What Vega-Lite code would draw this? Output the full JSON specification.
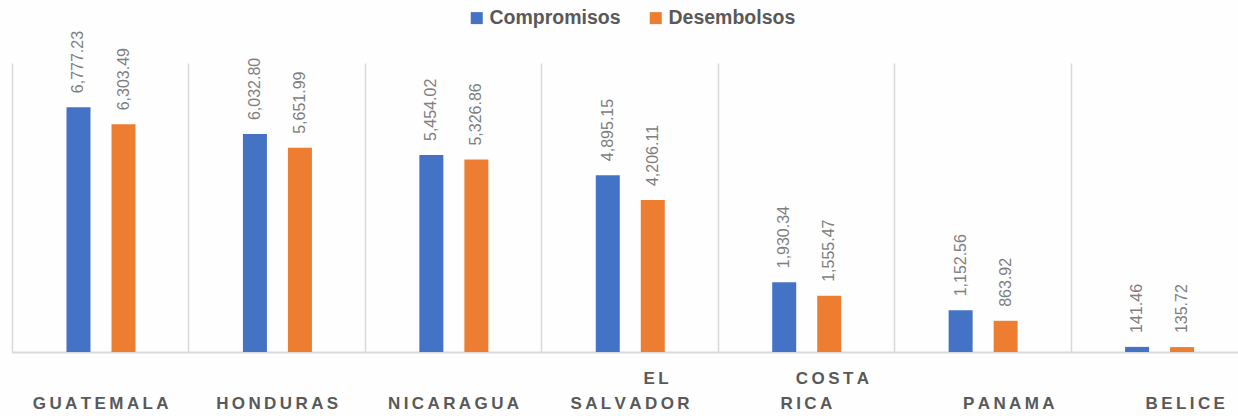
{
  "$schema": "https://vega.github.io/schema/vega-lite/v6.json",
  "autosize": {"type": "none"},
  "padding": {"left": 12, "top": 63, "right": 0, "bottom": 64},
  "width": 1235,
  "height": 289,
  "background": "#FEFEFE",
  "config": {"view": {"stroke": null}, "font": "Liberation Sans"},
  "data": {
    "values": [
      {"pais": "GUATEMALA", "serie": "Compromisos", "valor": 6777.23},
      {"pais": "GUATEMALA", "serie": "Desembolsos", "valor": 6303.49},
      {"pais": "HONDURAS", "serie": "Compromisos", "valor": 6032.80},
      {"pais": "HONDURAS", "serie": "Desembolsos", "valor": 5651.99},
      {"pais": "NICARAGUA", "serie": "Compromisos", "valor": 5454.02},
      {"pais": "NICARAGUA", "serie": "Desembolsos", "valor": 5326.86},
      {"pais": "EL SALVADOR", "serie": "Compromisos", "valor": 4895.15},
      {"pais": "EL SALVADOR", "serie": "Desembolsos", "valor": 4206.11},
      {"pais": "COSTA RICA", "serie": "Compromisos", "valor": 1930.34},
      {"pais": "COSTA RICA", "serie": "Desembolsos", "valor": 1555.47},
      {"pais": "PANAMA", "serie": "Compromisos", "valor": 1152.56},
      {"pais": "PANAMA", "serie": "Desembolsos", "valor": 863.92},
      {"pais": "BELICE", "serie": "Compromisos", "valor": 141.46},
      {"pais": "BELICE", "serie": "Desembolsos", "valor": 135.72}
    ]
  },
  "encoding": {
    "x": {
      "field": "pais",
      "type": "nominal",
      "sort": ["GUATEMALA", "HONDURAS", "NICARAGUA", "EL SALVADOR", "COSTA RICA", "PANAMA", "BELICE"],
      "scale": {"paddingInner": 0, "paddingOuter": 0},
      "axis": {
        "title": null,
        "ticks": false,
        "tickSize": 0,
        "labelAngle": 0,
        "labelFontSize": 17,
        "labelFontWeight": "bold",
        "labelColor": "#595959",
        "labelPadding": 35,
        "labelBaseline": "bottom",
        "labelLineHeight": 25,
        "labelLimit": 400,
        "labelOverlap": false,
        "grid": true,
        "tickBand": "extent",
        "gridColor": "#D9D9D9",
        "gridWidth": 1.5,
        "domainColor": "#D9D9D9",
        "domainWidth": 2,
        "labelExpr": "datum.label == 'EL SALVADOR' ? ['\u200b\u00a0\u00a0\u00a0\u00a0\u00a0\u00a0\u00a0\u00a0\u00a0\u00a0\u00a0' + join(split('EL', ''), '\u2009'), join(split('SALVADOR', ''), '\u2009')] : datum.label == 'COSTA RICA' ? ['\u200b\u00a0\u00a0\u00a0\u00a0\u00a0\u00a0\u00a0\u00a0\u00a0\u00a0\u00a0' + join(split('COSTA', ''), '\u2009'), join(split('RICA', ''), '\u2009')] : ['', (indexof(['PANAMA', 'BELICE'], datum.label) >= 0 ? '\u200b\u00a0\u00a0\u00a0\u00a0\u00a0\u00a0\u00a0\u00a0\u00a0\u00a0\u00a0' : '') + join(split(datum.label, ''), '\u2009')]"
      }
    },
    "xOffset": {
      "field": "serie",
      "type": "nominal",
      "sort": ["Compromisos", "Desembolsos"],
      "scale": {"range": [54.5, 123.5], "paddingInner": 0.467, "paddingOuter": 0}
    },
    "y": {
      "field": "valor",
      "type": "quantitative",
      "scale": {"domain": [0, 8000]},
      "axis": null
    }
  },
  "layer": [
    {
      "mark": {"type": "bar"},
      "encoding": {
        "color": {
          "field": "serie",
          "type": "nominal",
          "sort": ["Compromisos", "Desembolsos"],
          "scale": {"domain": ["Compromisos", "Desembolsos"], "range": ["#4472C4", "#ED7D31"]},
          "legend": {
            "orient": "none",
            "legendX": 455,
            "legendY": -55,
            "direction": "horizontal",
            "title": null,
            "symbolType": "square",
            "symbolSize": 144,
            "symbolStrokeWidth": 0,
            "symbolOpacity": 1,
            "labelFontSize": 19.5,
            "labelFontWeight": "bold",
            "labelColor": "#595959",
            "labelOffset": 3,
            "columnPadding": 25,
            "padding": 0
          }
        }
      }
    },
    {
      "mark": {"type": "text", "angle": 270, "align": "left", "baseline": "middle", "dx": 14, "fontSize": 16, "color": "#7F7F7F"},
      "encoding": {
        "text": {"field": "valor", "type": "quantitative", "format": ",.2f"}
      }
    }
  ]
}
